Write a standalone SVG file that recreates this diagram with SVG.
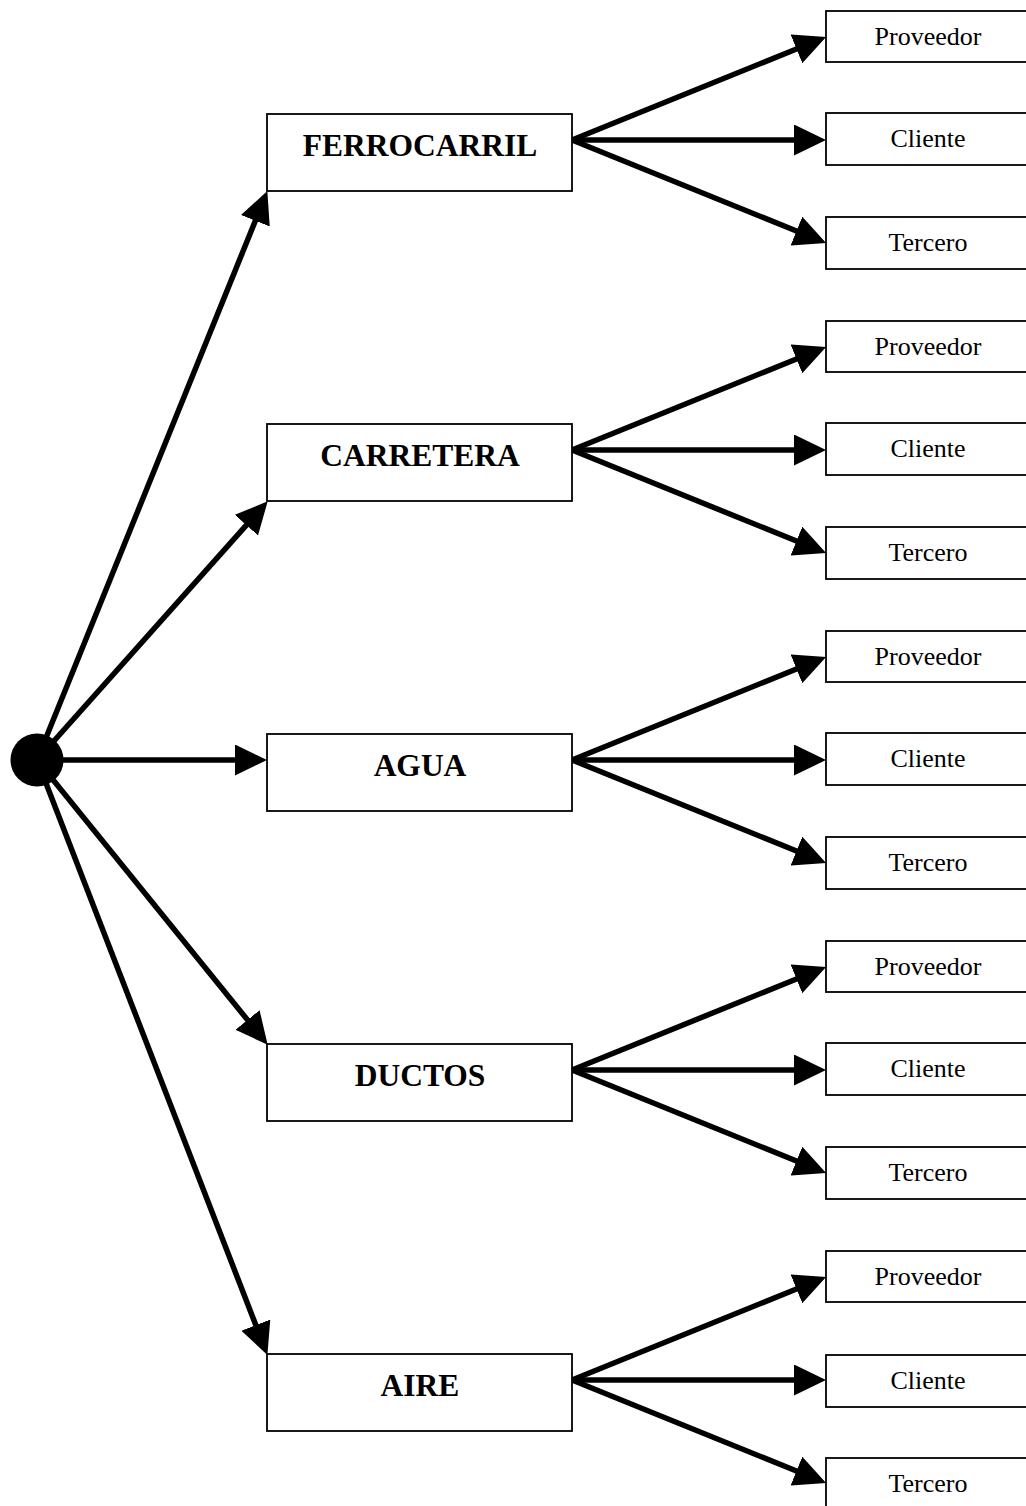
<svg xmlns="http://www.w3.org/2000/svg" width="1026" height="1506" viewBox="0 0 1026 1506">
<style>
.box{fill:#fff;stroke:#000;stroke-width:1.8}
.mid{font-family:"Liberation Serif","Times New Roman",serif;font-weight:bold;font-size:31.5px;text-anchor:middle;fill:#000}
.leaf{font-family:"Liberation Serif","Times New Roman",serif;font-size:26px;text-anchor:middle;fill:#000}
.conn{stroke:#000;stroke-width:5.5;fill:none;marker-end:url(#ah)}
</style>
<defs>
<marker id="ah" markerUnits="userSpaceOnUse" markerWidth="33" markerHeight="32" refX="6" refY="15.5" orient="auto">
<path d="M0,0 L32,15.5 L0,31 Z" fill="#000"/>
</marker>
</defs>
<g id="connectors">
<path class="conn" d="M37,760 L257.6,215.2"/>
<path class="conn" d="M37,760 L250.4,520.7"/>
<path class="conn" d="M37,760 L241,760"/>
<path class="conn" d="M37,760 L251.3,1024.6"/>
<path class="conn" d="M37,760 L258,1330.7"/>
<path class="conn" d="M572,140 L802,46.7"/>
<path class="conn" d="M572,140 L800,140"/>
<path class="conn" d="M572,140 L802,233.3"/>
<path class="conn" d="M572,450 L802,356.7"/>
<path class="conn" d="M572,450 L800,450"/>
<path class="conn" d="M572,450 L802,543.3"/>
<path class="conn" d="M572,760 L802,666.7"/>
<path class="conn" d="M572,760 L800,760"/>
<path class="conn" d="M572,760 L802,853.3"/>
<path class="conn" d="M572,1070 L802,976.7"/>
<path class="conn" d="M572,1070 L800,1070"/>
<path class="conn" d="M572,1070 L802,1163.3"/>
<path class="conn" d="M572,1380 L802,1286.7"/>
<path class="conn" d="M572,1380 L800,1380"/>
<path class="conn" d="M572,1380 L802,1473.3"/>
</g>
<g id="root"><circle cx="37" cy="760" r="26.5" fill="#000"/></g>
<g id="ferrocarril"><rect class="box" x="267" y="114" width="305" height="77"/><text class="mid" x="420" y="156">FERROCARRIL</text></g>
<g id="carretera"><rect class="box" x="267" y="424" width="305" height="77"/><text class="mid" x="420" y="466">CARRETERA</text></g>
<g id="agua"><rect class="box" x="267" y="734" width="305" height="77"/><text class="mid" x="420" y="776">AGUA</text></g>
<g id="ductos"><rect class="box" x="267" y="1044" width="305" height="77"/><text class="mid" x="420" y="1086">DUCTOS</text></g>
<g id="aire"><rect class="box" x="267" y="1354" width="305" height="77"/><text class="mid" x="420" y="1396">AIRE</text></g>
<g id="ferrocarril-proveedor"><rect class="box" x="826" y="11" width="210" height="51"/><text class="leaf" x="928" y="45">Proveedor</text></g>
<g id="ferrocarril-cliente"><rect class="box" x="826" y="113" width="210" height="52"/><text class="leaf" x="928" y="147">Cliente</text></g>
<g id="ferrocarril-tercero"><rect class="box" x="826" y="217" width="210" height="52"/><text class="leaf" x="928" y="251">Tercero</text></g>
<g id="carretera-proveedor"><rect class="box" x="826" y="321" width="210" height="51"/><text class="leaf" x="928" y="355">Proveedor</text></g>
<g id="carretera-cliente"><rect class="box" x="826" y="423" width="210" height="52"/><text class="leaf" x="928" y="457">Cliente</text></g>
<g id="carretera-tercero"><rect class="box" x="826" y="527" width="210" height="52"/><text class="leaf" x="928" y="561">Tercero</text></g>
<g id="agua-proveedor"><rect class="box" x="826" y="631" width="210" height="51"/><text class="leaf" x="928" y="665">Proveedor</text></g>
<g id="agua-cliente"><rect class="box" x="826" y="733" width="210" height="52"/><text class="leaf" x="928" y="767">Cliente</text></g>
<g id="agua-tercero"><rect class="box" x="826" y="837" width="210" height="52"/><text class="leaf" x="928" y="871">Tercero</text></g>
<g id="ductos-proveedor"><rect class="box" x="826" y="941" width="210" height="51"/><text class="leaf" x="928" y="975">Proveedor</text></g>
<g id="ductos-cliente"><rect class="box" x="826" y="1043" width="210" height="52"/><text class="leaf" x="928" y="1077">Cliente</text></g>
<g id="ductos-tercero"><rect class="box" x="826" y="1147" width="210" height="52"/><text class="leaf" x="928" y="1181">Tercero</text></g>
<g id="aire-proveedor"><rect class="box" x="826" y="1251" width="210" height="51"/><text class="leaf" x="928" y="1285">Proveedor</text></g>
<g id="aire-cliente"><rect class="box" x="826" y="1355" width="210" height="52"/><text class="leaf" x="928" y="1389">Cliente</text></g>
<g id="aire-tercero"><rect class="box" x="826" y="1458" width="210" height="60"/><text class="leaf" x="928" y="1492">Tercero</text></g>
</svg>
